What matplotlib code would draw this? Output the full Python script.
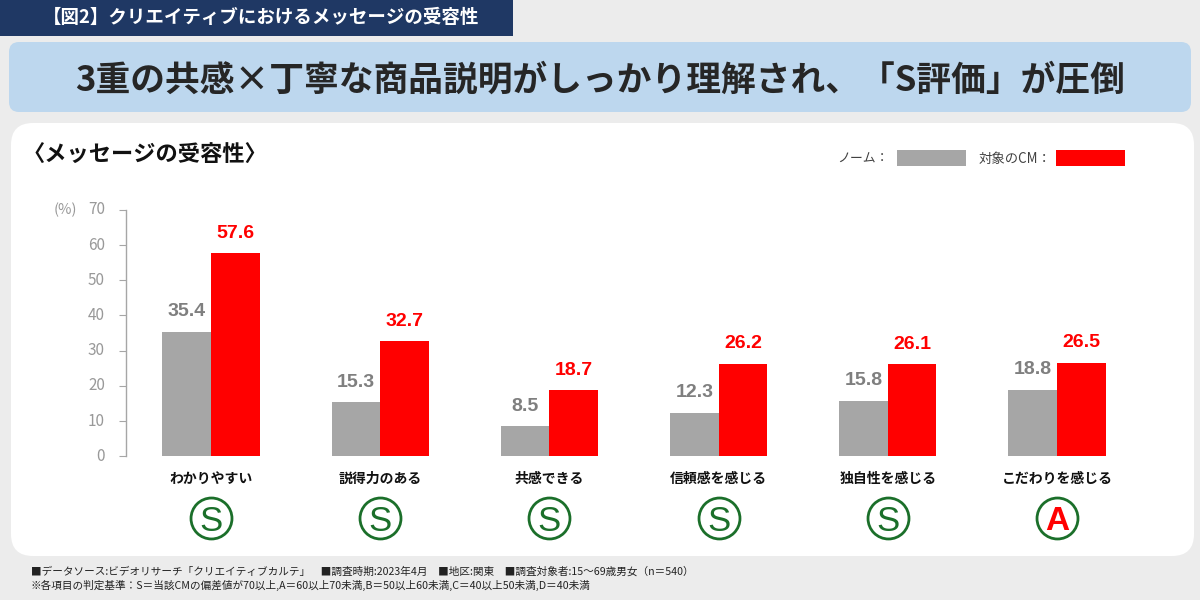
import matplotlib
matplotlib.use("Agg")
import matplotlib.pyplot as plt
from matplotlib.patches import FancyBboxPatch, Rectangle
from matplotlib.transforms import blended_transform_factory

plt.rcParams['font.family'] = ['Noto Sans CJK JP', 'DejaVu Sans']

categories = ['わかりやすい', '説得力のある', '共感できる', '信頼感を感じる', '独自性を感じる', 'こだわりを感じる']
norm_values = [35.4, 15.3, 8.5, 12.3, 15.8, 18.8]
cm_values = [57.6, 32.7, 18.7, 26.2, 26.1, 26.5]
grades = ['S', 'S', 'S', 'S', 'S', 'A']
y_ticks = [0, 10, 20, 30, 40, 50, 60, 70]

GRAY = '#a6a6a6'
RED = '#ff0000'
GREEN = '#1b6f2a'
W, H = 1200, 600

fig = plt.figure(figsize=(12, 6), dpi=100, facecolor='#ececec')

# Page furniture, laid out in pixel coordinates
bg = fig.add_axes([0, 0, 1, 1])
bg.set_xlim(0, W)
bg.set_ylim(H, 0)
bg.axis('off')


def rounded(x, y, w, h, r, color):
    bg.add_patch(FancyBboxPatch((x + r, y + r), w - 2 * r, h - 2 * r,
                                boxstyle=f'round,pad={r},rounding_size={r}',
                                fc=color, ec='none'))


bg.add_patch(Rectangle((0, 0), 513, 36, fc='#1f3864', ec='none'))
rounded(9, 42, 1182, 70, 10, '#bdd7ee')
rounded(11, 123, 1183, 433, 22, '#ffffff')

bg.text(261, 17, '【図2】クリエイティブにおけるメッセージの受容性', color='white',
        fontsize=13.3, fontweight='bold', ha='center', va='center')
bg.text(600, 80, '3重の共感×丁寧な商品説明がしっかり理解され、「S評価」が圧倒', color='#262626',
        fontsize=25, fontweight='bold', ha='center', va='center')
bg.text(145, 155, '〈メッセージの受容性〉', color='#111111',
        fontsize=16, fontweight='bold', ha='center', va='center')

# Legend
bg.text(889, 159, 'ノーム：', color='#404040', fontsize=9.3, ha='right', va='center')
bg.add_patch(Rectangle((897, 150), 69, 16, fc=GRAY, ec='none'))
bg.text(1051, 159, '対象のCM：', color='#404040', fontsize=9.6, ha='right', va='center')
bg.add_patch(Rectangle((1056, 150), 69, 16, fc=RED, ec='none'))

# Footnotes
bg.text(31, 571, '■データソース:ビデオリサーチ「クリエイティブカルテ」　■調査時期:2023年4月　■地区:関東　'
        '■調査対象者:15～69歳男女（n＝540）', color='#222222', fontsize=7.65, ha='left', va='center')
bg.text(31, 585, '※各項目の判定基準：S＝当該CMの偏差値が70以上,A＝60以上70未満,B＝50以上60未満,'
        'C＝40以上50未満,D＝40未満', color='#222222', fontsize=7.65, ha='left', va='center')

# Bar chart
AX_BOTTOM, AX_HEIGHT = 456.3, 246.5
ax = fig.add_axes([126.4 / W, 1 - AX_BOTTOM / H, (1141.6 - 126.4) / W, AX_HEIGHT / H])
ax.patch.set_alpha(0)
positions = list(range(len(categories)))
bar_w = 0.287
ax.bar([p - bar_w / 2 for p in positions], norm_values, bar_w, color=GRAY)
ax.bar([p + bar_w / 2 for p in positions], cm_values, bar_w, color=RED)
ax.set_xlim(-0.5, 5.5)
ax.set_ylim(0, 70)

label_font = ['Liberation Sans', 'DejaVu Sans']
for p, a, b in zip(positions, norm_values, cm_values):
    ax.annotate(f'{a:.1f}', (p - bar_w / 2, a), xytext=(0, 14.5), textcoords='offset points',
                color='#7f7f7f', fontsize=14, fontweight='bold', ha='center', va='center',
                family=label_font)
    ax.annotate(f'{b:.1f}', (p + bar_w / 2, b), xytext=(0, 14.5), textcoords='offset points',
                color=RED, fontsize=14, fontweight='bold', ha='center', va='center',
                family=label_font)

for side in ('top', 'right', 'bottom'):
    ax.spines[side].set_visible(False)
ax.spines['left'].set_color('#a6a6a6')
ax.spines['left'].set_linewidth(1)
ax.set_yticks(y_ticks)
ax.set_yticklabels([str(v) for v in y_ticks], color='#999999', fontsize=11, va='center')
ax.tick_params(axis='y', direction='out', length=5, width=0.8, color='#a6a6a6', pad=10.5)
ax.set_xticks([])

below = blended_transform_factory(ax.transData, ax.transAxes)
label_y = -(483 - AX_BOTTOM) / AX_HEIGHT
for p, name in zip(positions, categories):
    ax.text(p, label_y, name, transform=below, color='#111111', fontsize=10, fontweight='bold',
            ha='center', va='baseline', clip_on=False)

# Unit marker, to the left of the top tick label
ax.text(-49.4 / (1141.6 - 126.4), 70, '(%)', color='#999999', fontsize=10.5, ha='right', va='center',
        transform=blended_transform_factory(ax.transAxes, ax.transData), clip_on=False)

# Grade badges below the category labels
badge_y = -(518 - AX_BOTTOM) / AX_HEIGHT
for p, g in zip(positions, grades):
    ax.plot([p], [badge_y], marker='o', ms=29.5, mfc='white', mec=GREEN, mew=2,
            transform=below, clip_on=False, ls='none')
    ax.text(p, badge_y, g, transform=below, color=GREEN if g == 'S' else RED,
            fontsize=25 if g == 'S' else 24, fontweight='normal' if g == 'S' else 'bold',
            ha='center', va='center_baseline', clip_on=False, family=label_font)

fig.savefig('out.png', dpi=100, facecolor=fig.get_facecolor())
